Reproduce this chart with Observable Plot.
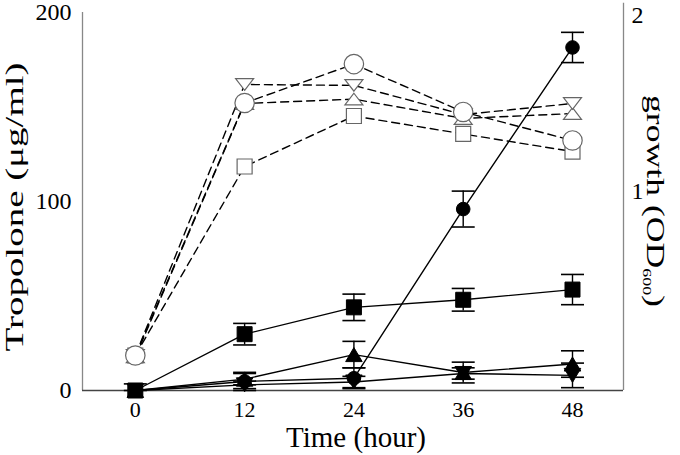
<!DOCTYPE html>
<html>
<head>
<meta charset="utf-8">
<script src="https://cdn.jsdelivr.net/npm/d3@7"></script>
<script src="https://cdn.jsdelivr.net/npm/@observablehq/plot@0.6"></script>
<style>
  html, body { margin: 0; padding: 0; background: white; }
  svg { display: block; }
</style>
</head>
<body>
<script>
// ---------- data ----------
const hours = [0, 12, 24, 36, 48];

// growth (OD600), open symbols, dashed lines (right axis)
const growthCircle  = [0.068, 1.503, 1.724, 1.452, 1.290];
const growthSquare  = [0.068, 1.142, 1.429, 1.327, 1.227];
const growthTriDown = [0.068, 1.608, 1.603, 1.437, 1.500];
const growthTriUp   = [0.060, 1.500, 1.525, 1.415, 1.443];

// tropolone (µg/ml), filled symbols, solid lines (left axis)
const tropCircle     = [0, 4.8, 6.5, 96, 181.5];
const tropCircleErr  = [3.5, 4.8, 5.5, 9.5, 8];
const tropSquare     = [0, 29.8, 44, 48, 53.4];
const tropSquareErr  = [0, 5.7, 7, 6, 8];
const tropTriUp      = [0, 6, 19, 9.5, 14];
const tropTriUpErr   = [0, 3, 7, 5.5, 7];
const tropTriDown    = [0, 3, 4.5, 9, 8];
const tropTriDownErr = [0, 2, 3, 3, 6.5];

// axes
const xTicks = [0, 12, 24, 36, 48];
const yTicksLeft = [0, 100, 200];
const yTicksRight = [1, 2];
const xDomain = [-5.8, 53.6];
const yDomain = [0, 200];
const growthAxisTop = 2.07;
// right (growth) axis expressed in left-axis units
const growthOffset = 12.2, growthScale = 93.1;
const growthToL = g => growthOffset + growthScale * g;
const lToGrowth = l => (l - growthOffset) / growthScale;

// ---------- symbols ----------
const squareSym = {draw(ctx, size) { const h = Math.sqrt(size / Math.PI); ctx.rect(-h, -h, 2 * h, 2 * h); }};
function triSym(dir, aspect) {
  return {draw(ctx, size) {
    const h = Math.sqrt(size / Math.PI), t = h * aspect;
    ctx.moveTo(0, -dir * t); ctx.lineTo(h, dir * t); ctx.lineTo(-h, dir * t); ctx.closePath();
  }};
}
const capSym = {draw(ctx, size) { const h = Math.sqrt(size / Math.PI); ctx.moveTo(-h, 0); ctx.lineTo(h, 0); }};

// ---------- rows ----------
const growthSeries = [
  {name: "triUp",   values: growthTriUp,   symbol: triSym(1, 0.65),  r: 9},
  {name: "triDown", values: growthTriDown, symbol: triSym(-1, 0.65), r: 9},
  {name: "square",  values: growthSquare,  symbol: squareSym,        r: 7.5},
  {name: "circle",  values: growthCircle,  symbol: "circle",         r: 9.7}
];
const growthRows = growthSeries.flatMap(s => hours.map((t, i) => ({series: s.name, t, g: s.values[i], y: growthToL(s.values[i])})));

const tropSeries = [
  {name: "triUp",   values: tropTriUp,   err: tropTriUpErr,   symbol: triSym(1, 0.85),  r: 8.25},
  {name: "triDown", values: tropTriDown, err: tropTriDownErr, symbol: triSym(-1, 0.85), r: 8.25},
  {name: "square",  values: tropSquare,  err: tropSquareErr,  symbol: squareSym,        r: 7.5},
  {name: "circle",  values: tropCircle,  err: tropCircleErr,  symbol: "circle",         r: 6.8}
];
const tropRows = tropSeries.flatMap(s => hours.map((t, i) => ({series: s.name, t, v: s.values[i], e: s.err[i]})));
const errRows = tropRows.filter(d => d.e > 0);

const serif = "Liberation Serif, Times New Roman, serif";

const chart = Plot.plot({
  width: 680,
  height: 455,
  marginLeft: 82,
  marginRight: 57,
  marginTop: 12,
  marginBottom: 65,
  x: {domain: xDomain},
  y: {domain: yDomain},
  style: {background: "white", color: "black", fontFamily: serif},
  marks: [
    // frame lines
    Plot.ruleX([xDomain[0]], {y1: yDomain[0], y2: yDomain[1], stroke: "#888", strokeWidth: 1.3}),
    Plot.ruleX([xDomain[1]], {y1: yDomain[0], y2: growthToL(growthAxisTop), stroke: "#888", strokeWidth: 1.3}),
    Plot.ruleY([0], {stroke: "#444", strokeWidth: 1.3}),
    // axes
    Plot.axisX({ticks: xTicks, tickSize: 0, tickPadding: 11, label: null, className: "xlab"}),
    Plot.axisY({ticks: yTicksLeft, tickSize: 0, tickPadding: 11, label: null, className: "ylab"}),
    Plot.axisY({anchor: "right", ticks: yTicksRight.map(growthToL), tickFormat: d => String(Math.round(lToGrowth(d))), tickSize: 0, tickPadding: 8, label: null, className: "ylab"}),
    // growth: dashed lines + open markers
    Plot.line(growthRows, {x: "t", y: "y", z: "series", stroke: "black", strokeWidth: 1.4, strokeDasharray: "8,5"}),
    ...growthSeries.map(s => Plot.dot(growthRows.filter(d => d.series === s.name), {
      x: "t", y: "y", symbol: s.symbol, r: s.r, fill: "white", stroke: "#666", strokeWidth: 1.2
    })),
    // tropolone: solid lines, error bars, filled markers
    Plot.line(tropRows, {x: "t", y: "v", z: "series", stroke: "black", strokeWidth: 1.4}),
    Plot.ruleX(errRows, {x: "t", y1: d => Math.max(0, d.v - d.e), y2: d => d.v + d.e, stroke: "black", strokeWidth: 1.4}),
    Plot.dot(errRows, {x: "t", y: d => d.v + d.e, symbol: capSym, r: 11.5, stroke: "black", strokeWidth: 1.6}),
    Plot.dot(errRows, {x: "t", y: d => Math.max(0, d.v - d.e), symbol: capSym, r: 11.5, stroke: "black", strokeWidth: 1.6}),
    ...tropSeries.map(s => Plot.dot(tropRows.filter(d => d.series === s.name), {
      x: "t", y: "v", symbol: s.symbol, r: s.r, fill: "black", stroke: "black", strokeWidth: 1
    }))
  ]
});

const svg = d3.select(chart);
svg.selectAll("text").each(function() {
  this.style.fontFamily = serif;
  this.style.fill = "black";
  this.style.fontSize = "22px";
});
svg.selectAll(".ylab text").each(function() { this.style.fontSize = "24px"; });

// axis titles
svg.append("text")
  .attr("x", 356).attr("y", 447)
  .attr("text-anchor", "middle")
  .style("font-family", serif).style("font-size", "29px").attr("fill", "black")
  .text("Time (hour)");
svg.append("text")
  .attr("transform", "translate(23,207) rotate(-90)")
  .attr("text-anchor", "middle")
  .style("font-family", serif).style("font-size", "25px").attr("fill", "black")
  .attr("textLength", 289).attr("lengthAdjust", "spacingAndGlyphs")
  .text("Tropolone (μg/ml)");
const rt = svg.append("text")
  .attr("transform", "translate(647,201) rotate(90)")
  .attr("text-anchor", "middle")
  .style("font-family", serif).style("font-size", "26px").attr("fill", "black")
  .attr("textLength", 212).attr("lengthAdjust", "spacingAndGlyphs");
rt.append("tspan").text("growth (OD");
rt.append("tspan").style("font-size", "13px").attr("dy", 4).text("600");
rt.append("tspan").attr("dy", -4).text(")");

document.body.appendChild(chart);
</script>
</body>
</html>
